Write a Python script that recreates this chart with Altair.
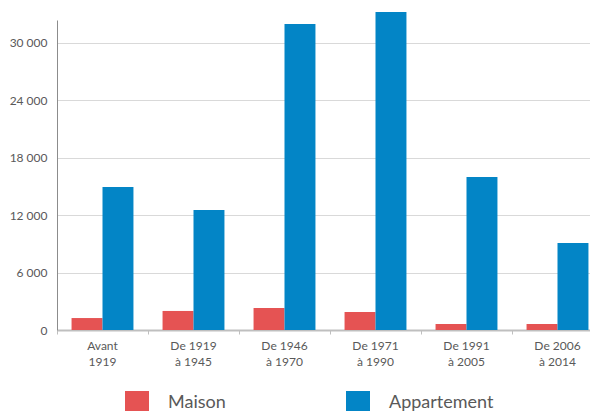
import altair as alt
import pandas as pd

categories = ["Avant 1919", "De 1919 à 1945", "De 1946 à 1970", "De 1971 à 1990", "De 1991 à 2005", "De 2006 à 2014"]
series = ["Maison", "Appartement"]
maison = [1250, 1990, 2300, 1880, 630, 630]
appartement = [14950, 12540, 31990, 33240, 15990, 9090]
y_ticks = [0, 6000, 12000, 18000, 24000, 30000]
colors = ["#E55353", "#0385C6"]

rows = []
for c, m, a in zip(categories, maison, appartement):
    rows.append({"cat": c, "series": "Maison", "value": m})
    rows.append({"cat": c, "series": "Appartement", "value": a})
df = pd.DataFrame(rows)

FONT = "Lato"

chart = alt.Chart(df).mark_bar(clip=False).encode(
    x=alt.X("cat:N", sort=categories,
            scale=alt.Scale(range=[0, 546], paddingInner=0, paddingOuter=0),
            axis=alt.Axis(title=None, labelAngle=0, bandPosition=0, ticks=True, tickSize=4,
                          tickColor="#bfbfbf", domainColor="#bfbfbf", domainWidth=2,
                          labelFontSize=12, labelColor="#595959", labelFont=FONT,
                          labelPadding=6, labelLineHeight=16, grid=False,
                          labelExpr="datum.label == 'Avant 1919' ? ['Avant', '1919'] : [slice(datum.label, 0, 7), slice(datum.label, 8)]")),
    xOffset=alt.XOffset("series:N", sort=series,
                        scale=alt.Scale(paddingOuter=0.47, paddingInner=0)),
    y=alt.Y("value:Q", scale=alt.Scale(domain=[0, 32400], nice=False),
            axis=alt.Axis(title=None, values=y_ticks, ticks=False, labelPadding=10,
                          labelFontSize=12, labelColor="#595959", labelFont=FONT,
                          domainColor="#8c8c8c", domainWidth=1,
                          gridColor="#d9d9d9", gridWidth=1,
                          labelExpr="replace(format(datum.value, ','), ',', ' ')")),
    color=alt.Color("series:N", sort=series,
                    scale=alt.Scale(domain=series, range=colors),
                    legend=alt.Legend(title=None, orient="none", legendX=68, legendY=371,
                                      direction="horizontal", columns=2,
                                      symbolType="square", symbolSize=576,
                                      symbolStrokeWidth=0, symbolOpacity=1,
                                      labelFontSize=18, labelColor="#595959", labelFont=FONT,
                                      labelOffset=19, columnPadding=120)),
).properties(
    width=533, height=310,
    padding={"left": 49, "top": 12, "right": 0, "bottom": 81},
    autosize="none",
).configure_view(stroke=None)

chart.save("out.html", embed_options={"renderer": "svg", "actions": False})
